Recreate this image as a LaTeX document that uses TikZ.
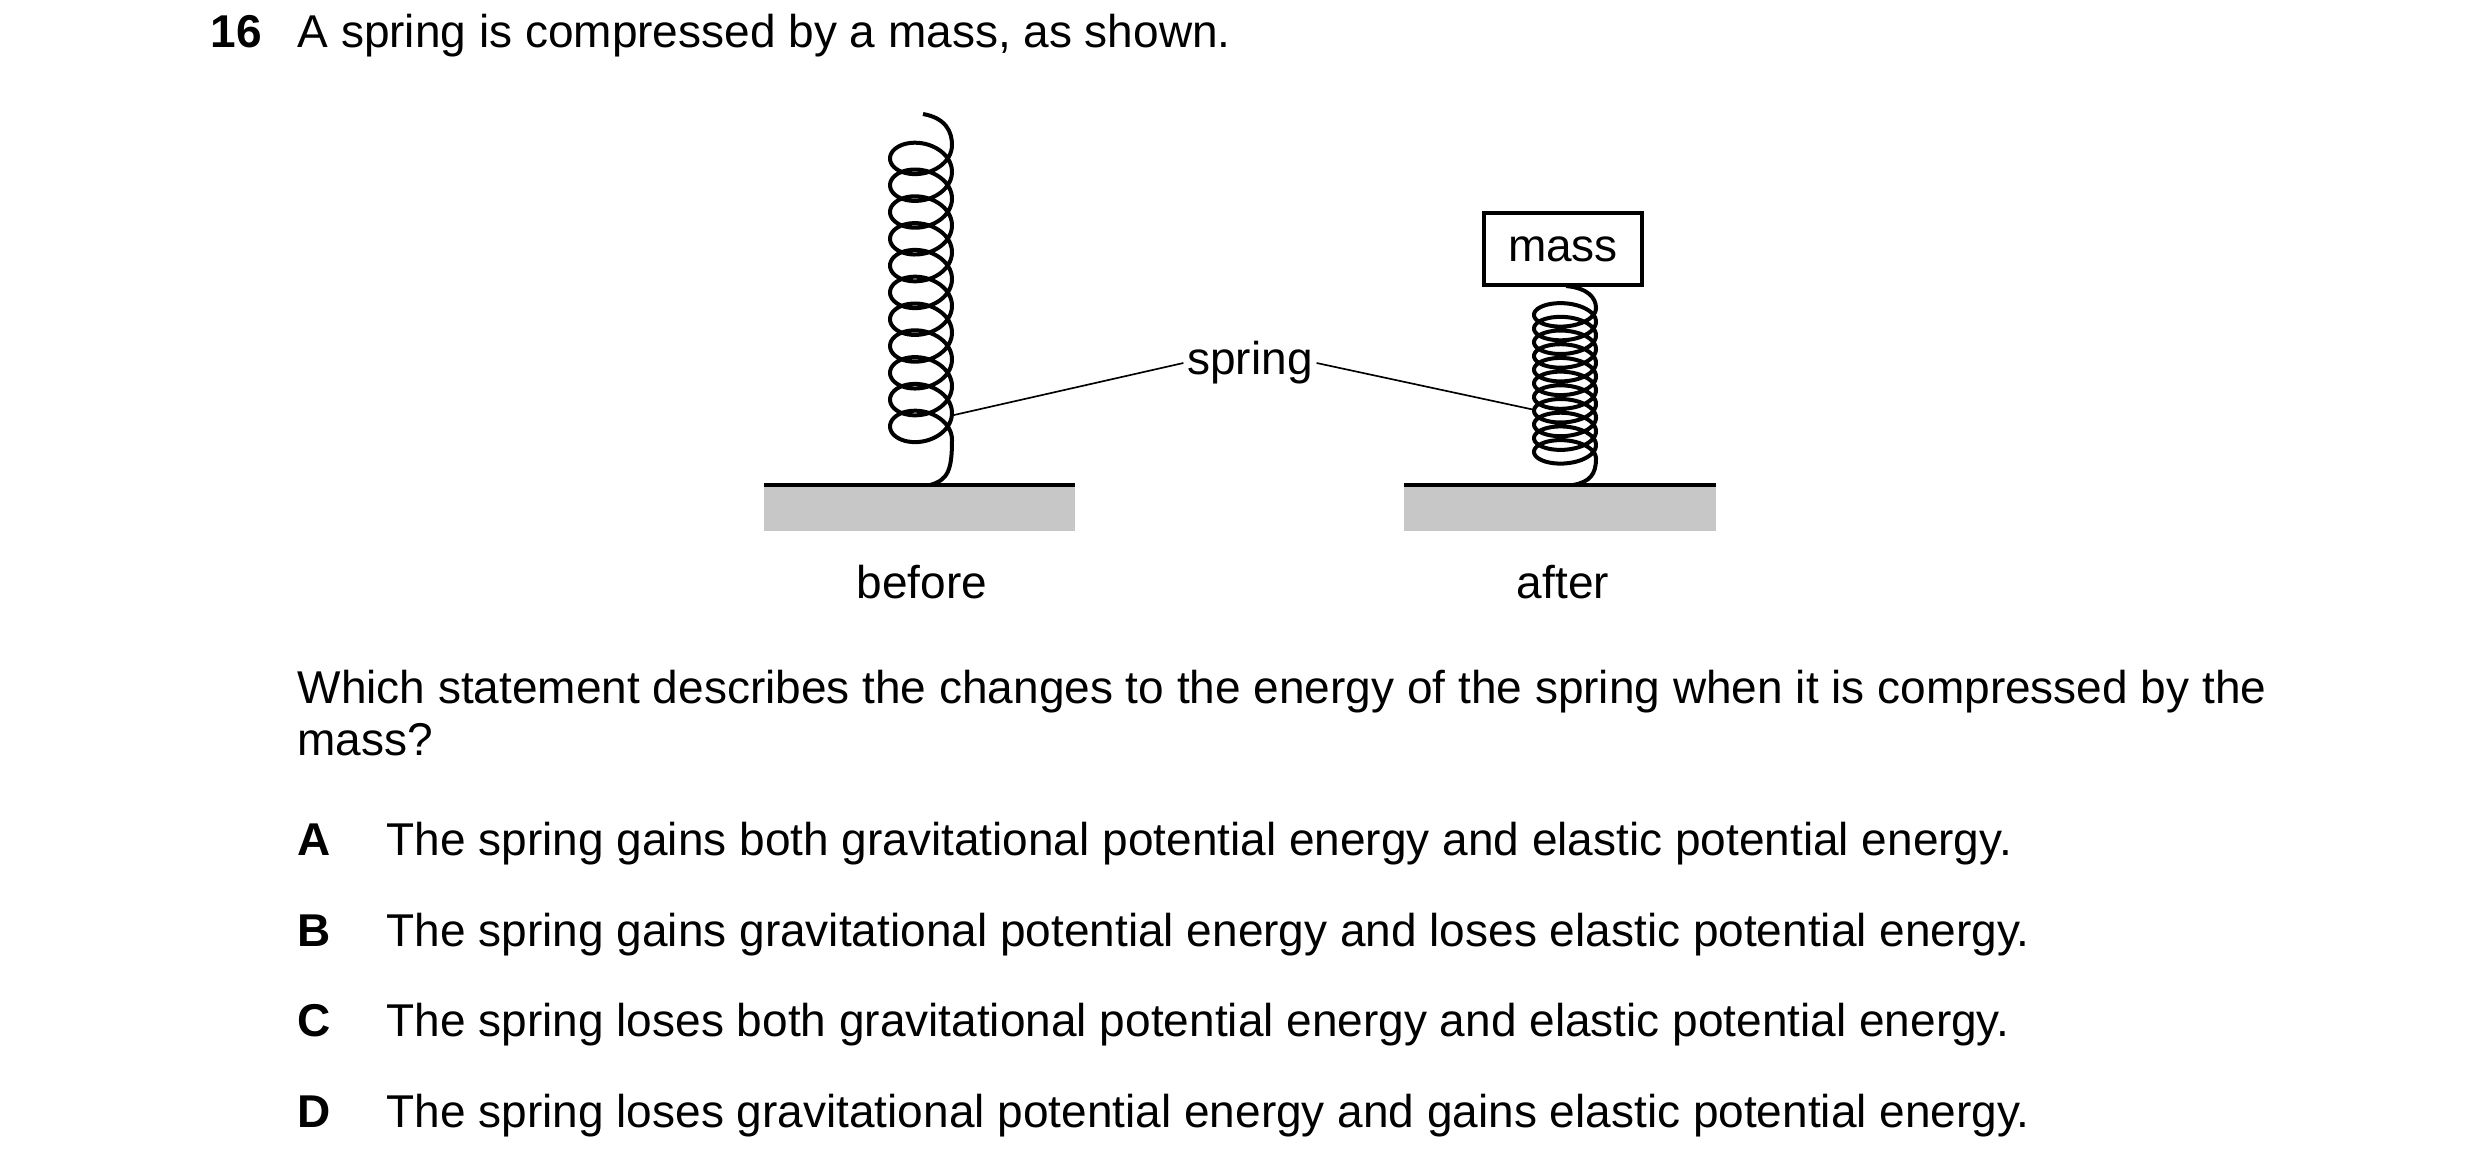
\documentclass[tikz,border=0pt]{standalone}
\usepackage{fontspec}
\setmainfont{Liberation Sans}
\begin{document}
\begin{tikzpicture}[x=0.3pt,y=-0.3pt,
  txt/.style={font=\fontsize{13.8}{16}\selectfont, inner sep=0pt, anchor=base west},
  lbl/.style={font=\fontsize{13.8}{16}\selectfont, inner sep=1pt},
  spr/.style={line width=1.2pt},
  gnd/.style={fill=black!22, draw=none},
  lead/.style={line width=0.5pt}]
\useasboundingbox (0,0) rectangle (2480,1175);
% title
\node[txt,font=\bfseries\fontsize{13.8}{16}\selectfont] (num) at (210,47) {16};
\node[txt] (title) at (297,47) {A spring is compressed by a mass, as shown.};
% grounds
\fill[gnd] (764,485) rectangle (1075,531);
\draw[line width=1.4pt] (764,485) -- (1075,485);
\fill[gnd] (1404,485) rectangle (1716,531);
\draw[line width=1.4pt] (1404,485) -- (1716,485);
% before spring
\draw[spr] (923,114) .. controls (946,118) and (952,132) .. (952,145)
  -- plot[domain=0:3960,samples=600,smooth] ({921+31*cos(\x)},{145+\x/360*26.8+22*sin(\x)})
  .. controls (952,470) and (948,480) .. (930,485);
% after spring
\node[draw,line width=1.3pt,minimum width=158*0.3pt,minimum height=72*0.3pt,inner sep=0pt,
  font=\fontsize{13.8}{16}\selectfont] (mass) at (1563,249) {mass};
\draw[spr] (1566,286) .. controls (1588,288) and (1596,298) .. (1596,308)
  -- plot[domain=0:3960,samples=800,smooth] ({1565+31*cos(\x)},{308+\x/360*13.7+15*sin(\x)})
  .. controls (1596,474) and (1590,482) .. (1573,485);
% labels
\node[lbl] (spring) at (1250,363) {spring};
\coordinate (bs) at (954,415);
\coordinate (as) at (1535,410);
\draw[lead] (bs) -- (spring.west);
\draw[lead] (spring.east) -- (as);
\node[lbl] (before) at (922,582) {before};
\node[lbl] (after) at (1563,582) {after};
% question
\node[txt] (q1) at (297,703) {Which statement describes the changes to the energy of the spring when it is compressed by the};
\node[txt] (q2) at (297,755) {mass?};
\node[txt,font=\bfseries\fontsize{13.8}{16}\selectfont] (la) at (297,855) {A};
\node[txt] (ta) at (386,855) {The spring gains both gravitational potential energy and elastic potential energy.};
\node[txt,font=\bfseries\fontsize{13.8}{16}\selectfont] (lb) at (297,946) {B};
\node[txt] (tb) at (386,946) {The spring gains gravitational potential energy and loses elastic potential energy.};
\node[txt,font=\bfseries\fontsize{13.8}{16}\selectfont] (lc) at (297,1036) {C};
\node[txt] (tc) at (386,1036) {The spring loses both gravitational potential energy and elastic potential energy.};
\node[txt,font=\bfseries\fontsize{13.8}{16}\selectfont] (ld) at (297,1127) {D};
\node[txt] (td) at (386,1127) {The spring loses gravitational potential energy and gains elastic potential energy.};
\end{tikzpicture}
\end{document}
